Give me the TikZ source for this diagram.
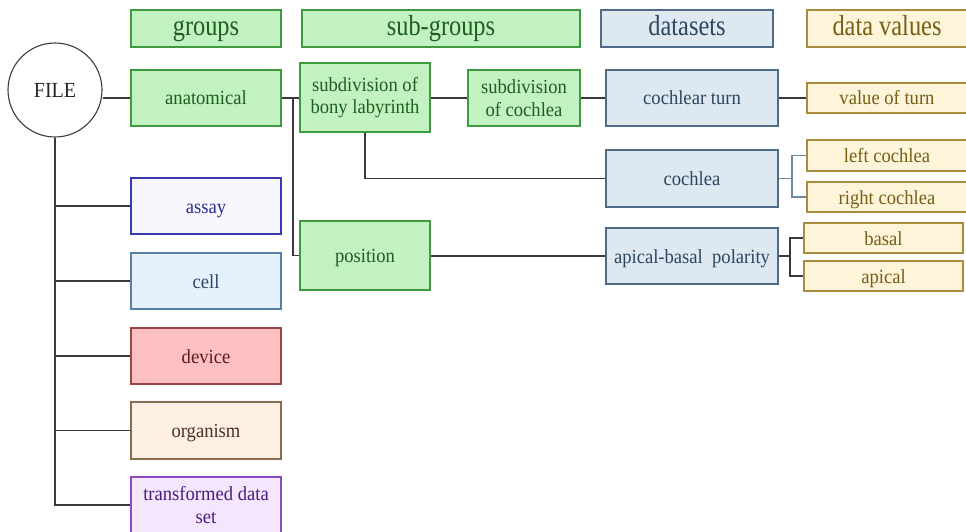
\documentclass[tikz,border=0pt]{standalone}
\usepackage{fontspec}
\setmainfont{Liberation Serif}[FakeStretch=0.93]
\newfontfamily\hdrfont{Liberation Serif}[FakeStretch=0.84]
\definecolor{gfill}{HTML}{C2F2C2}
\definecolor{gdraw}{HTML}{3E9A3E}
\definecolor{gtext}{HTML}{1E5E1E}
\definecolor{dfill}{HTML}{DDE8F0}
\definecolor{ddraw}{HTML}{4F6B85}
\definecolor{dtext}{HTML}{2C4660}
\definecolor{vfill}{HTML}{FDF4DA}
\definecolor{vdraw}{HTML}{A68C3C}
\definecolor{vtext}{HTML}{765E14}
\definecolor{afill}{HTML}{F8F7FD}
\definecolor{adraw}{HTML}{3A3AB0}
\definecolor{atext}{HTML}{2A2A95}
\definecolor{cfill}{HTML}{E4F0FC}
\definecolor{cdraw}{HTML}{5A7FA6}
\definecolor{ctext}{HTML}{2A4868}
\definecolor{rfill}{HTML}{FDC0C0}
\definecolor{rdraw}{HTML}{9A4444}
\definecolor{rtext}{HTML}{5A1C1C}
\definecolor{ofill}{HTML}{FDF0E2}
\definecolor{odraw}{HTML}{8A6C4E}
\definecolor{otext}{HTML}{4A3020}
\definecolor{tfill}{HTML}{F4E6FC}
\definecolor{tdraw}{HTML}{8A4CC0}
\definecolor{ttext}{HTML}{4A1C80}
\definecolor{lgrey}{HTML}{3A3A3A}
\definecolor{lblue}{HTML}{6A8AA6}
\tikzset{
  base/.style={rectangle, line width=1.1pt, inner sep=2pt},
  box/.style={base, align=center, font=\fontsize{20}{22.5}\selectfont},
  sl/.style={text height=14pt, text depth=0pt},
  gbox/.style={box, fill=gfill, draw=gdraw, text=gtext},
  dbox/.style={box, fill=dfill, draw=ddraw, text=dtext},
  vbox/.style={box, fill=vfill, draw=vdraw, text=vtext},
  hdr/.style={base, font=\hdrfont\fontsize{29}{32}\selectfont, minimum height=37pt, text height=15pt, text depth=0pt},
  conn/.style={draw=lgrey, line width=1.5pt},
}
\begin{document}
\begin{tikzpicture}[x=1pt,y=-1pt]
\useasboundingbox (0,0) rectangle (966,532);
% headers
\node[hdr, fill=gfill, draw=gdraw, text=gtext, minimum width=150pt] (hgroups) at (206,28.5) {groups};
\node[hdr, fill=gfill, draw=gdraw, text=gtext, minimum width=278pt] (hsub) at (441,28.5) {sub-groups};
\node[hdr, fill=dfill, draw=ddraw, text=dtext, minimum width=172pt] (hdata) at (687,28.5) {datasets};
\node[hdr, fill=vfill, draw=vdraw, text=vtext, minimum width=160pt] (hvals) at (887,28.5) {data values};
% file
\node[circle, draw=lgrey, line width=1.1pt, minimum size=94pt, inner sep=0pt, font=\fontsize{21.5}{25}\selectfont, text=black!85] (file) at (55,90) {FILE};
% groups
\node[gbox, sl, minimum width=150pt, minimum height=56pt] (anat) at (206,98) {anatomical};
\node[box, sl, fill=afill, draw=adraw, text=atext, minimum width=150pt, minimum height=56pt] (assay) at (206,206) {assay};
\node[box, sl, fill=cfill, draw=cdraw, text=ctext, minimum width=150pt, minimum height=56pt] (cell) at (206,281) {cell};
\node[box, sl, fill=rfill, draw=rdraw, text=rtext, minimum width=150pt, minimum height=56pt] (device) at (206,356) {device};
\node[box, sl, fill=ofill, draw=odraw, text=otext, minimum width=150pt, minimum height=57pt] (organism) at (206,430.5) {organism};
\node[box, fill=tfill, draw=tdraw, text=ttext, minimum width=150pt, minimum height=56pt] (transformed) at (206,505) {transformed data\\set};
% sub-groups
\node[gbox, minimum width=130pt, minimum height=69pt] (bony) at (365,97.5) {subdivision of\\bony labyrinth};
\node[gbox, sl, minimum width=130pt, minimum height=69pt] (position) at (365,255.5) {position};
\node[gbox, minimum width=112pt, minimum height=56pt] (subcoch) at (524,98) {subdivision\\of cochlea};
% datasets
\node[dbox, sl, minimum width=172pt, minimum height=56pt] (turn) at (692,98) {cochlear turn};
\node[dbox, sl, minimum width=172pt, minimum height=57pt] (cochlea) at (692,178.5) {cochlea};
\node[dbox, sl, minimum width=172pt, minimum height=56pt] (polarity) at (692,256) {apical-basal\ \ polarity};
% values
\node[vbox, sl, minimum width=160pt, minimum height=30pt] (valturn) at (887,98) {value of turn};
\node[vbox, sl, minimum width=160pt, minimum height=31pt] (left) at (887,155.5) {left cochlea};
\node[vbox, sl, minimum width=160pt, minimum height=30pt] (right) at (887,197) {right cochlea};
\node[vbox, sl, minimum width=159pt, minimum height=30pt] (basal) at (883.5,238) {basal};
\node[vbox, sl, minimum width=159pt, minimum height=30pt] (apical) at (883.5,276) {apical};
% junctions
\coordinate (j1) at (293,98);
\coordinate (b1) at (792,178.5);
\coordinate (b2) at (790,256);
% connectors
\draw[conn] (anat.west -| file.east) -- (anat.west);
\draw[conn] (file.south) |- (transformed.west);
\draw[conn] (file.south |- assay.west) -- (assay.west);
\draw[conn] (file.south |- cell.west) -- (cell.west);
\draw[conn] (file.south |- device.west) -- (device.west);
\draw[conn] (file.south |- organism.west) -- (organism.west);
\draw[conn] (anat.east) -- (anat.east -| bony.west);
\draw[conn] (j1) |- (position.west);
\draw[conn] (bony.east |- subcoch.west) -- (subcoch.west);
\draw[conn] (subcoch.east) -- (turn.west);
\draw[conn] (turn.east) -- (valturn.west);
\draw[conn] (bony.south) |- (cochlea.west);
\draw[conn, draw=lblue] (cochlea.east) -- (b1);
\draw[conn, draw=lblue] (b1) |- (left.west);
\draw[conn, draw=lblue] (b1) |- (right.west);
\draw[conn] (position.east |- polarity.west) -- (polarity.west);
\draw[conn] (polarity.east) -- (b2);
\draw[conn] (b2) |- (basal.west);
\draw[conn] (b2) |- (apical.west);
\end{tikzpicture}
\end{document}
